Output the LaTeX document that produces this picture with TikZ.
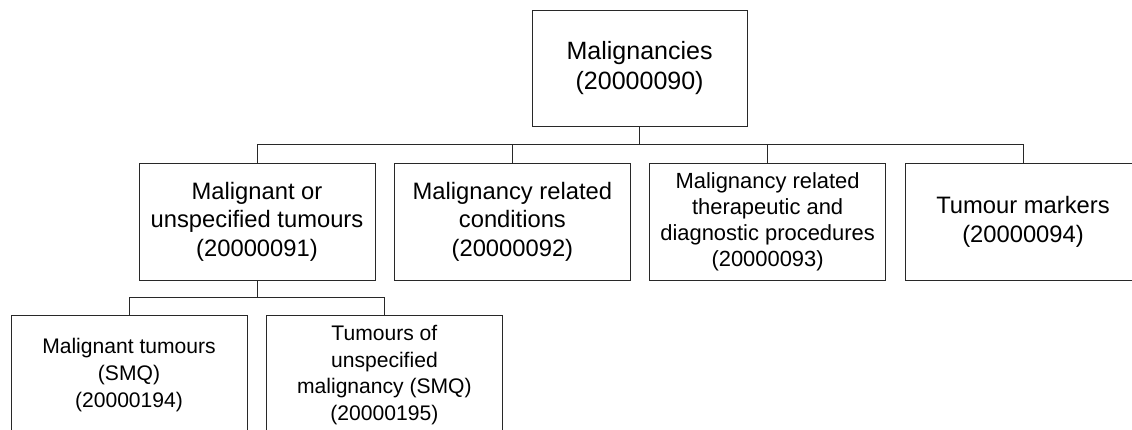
\documentclass[tikz,border=0pt]{standalone}
\usepackage{fontspec}
\setmainfont{Liberation Sans}
\usepackage{tikz}
\usetikzlibrary{positioning}
\usepackage{xcolor}
\definecolor{linecolor}{RGB}{40, 40, 40}

\begin{document}
\begin{tikzpicture}[
    box/.style={rectangle, draw=linecolor, line width=0.7pt, minimum width=5.9cm, minimum height=2.925cm, align=center, inner sep=1pt, font=\fontsize{16.9}{20.3}\selectfont},
    topbox/.style={box, minimum width=5.375cm, minimum height=2.9cm, font=\fontsize{17.8}{21.3}\selectfont},
    smallbox/.style={box, font=\fontsize{15.6}{18.6}\selectfont},
    leafbox/.style={box, minimum height=3cm, font=\fontsize{15}{19}\selectfont},
    link/.style={draw=linecolor, line width=0.7pt},
]
    \useasboundingbox (0, 0) rectangle (28.3, -10.75);
    \clip (0, 0) rectangle (28.3, -10.75);

    % Top level
    \node[topbox] (malig) at (15.99, -1.70) {Malignancies\\(20000090)};

    % Second level
    \node[box] (tumours) at (6.425, -5.54) {Malignant or\\unspecified tumours\\(20000091)};
    \node[box] (conditions) at (12.81, -5.54) {Malignancy related\\conditions\\(20000092)};
    \node[smallbox] (procedures) at (19.19, -5.54) {Malignancy related\\therapeutic and\\diagnostic procedures\\(20000093)};
    \node[box] (markers) at (25.575, -5.54) {Tumour markers\\(20000094)};

    % Third level
    \node[leafbox] (malsmq) at (3.225, -9.375) {Malignant tumours\\(SMQ)\\(20000194)};
    \node[leafbox] (unspecsmq) at (9.61, -9.375) {Tumours of\\unspecified\\malignancy (SMQ)\\(20000195)};

    % Connectors
    \foreach \n in {tumours, conditions, procedures, markers} {
        \draw[link] (malig.south) -- ++(0, -0.45) -| (\n.north);
    }
    \foreach \n in {malsmq, unspecsmq} {
        \draw[link] (tumours.south) -- ++(0, -0.42) -| (\n.north);
    }
\end{tikzpicture}
\end{document}
